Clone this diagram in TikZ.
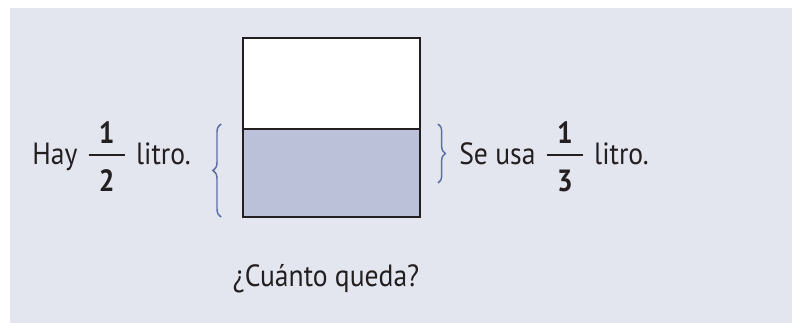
\documentclass[tikz,border=0pt]{standalone}
\usepackage{fontspec}
\setmainfont[FakeStretch=0.9]{PT Sans}
\usepackage{tikz}
\usetikzlibrary{positioning, decorations.pathreplacing}
\definecolor{panelGray}{HTML}{E3E6EF}
\definecolor{waterBlue}{HTML}{BBC1D8}
\definecolor{braceBlue}{HTML}{5B6FA3}
\definecolor{inkDark}{HTML}{231F20}
% stacked fraction with a long bar
\newcommand{\bigfrac}[2]{\hspace{3pt}$\vcenter{\offinterlineskip
  \hbox to 27pt{\hfil\bfseries #1\hfil}\vskip 7.5pt
  \hrule height 1.7pt\vskip 10.5pt
  \hbox to 27pt{\hfil\bfseries #2\hfil}}$\hspace{3pt}}

\begin{document}
\begin{tikzpicture}[
  x=0.75pt, y=-0.75pt,
  every node/.style={font=\fontsize{23}{27}\selectfont, text=inkDark, inner sep=0pt},
  glasspart/.style={draw=inkDark, line width=2pt},
  curly/.style={draw=braceBlue, line width=1.1pt,
    decorate, decoration={brace, amplitude=#1}},
]

% Panel background
\useasboundingbox (0,0) rectangle (792,323);
\fill[panelGray] (10,8) rectangle (792,323);

% Glass
\filldraw[glasspart, fill=white] (243,38) rectangle (420,129);
\filldraw[glasspart, fill=waterBlue] (243,129) rectangle (420,217);

% Braces
\draw[curly=6pt] (221,217) -- (221,124);
\draw[curly=5.5pt] (438,124) -- (438,183);

% Labels
\node[anchor=base west] (have) at (32,165) {Hay \bigfrac{1}{2} litro.};
\node[anchor=base west] (used) at (459,165) {Se usa \bigfrac{1}{3} litro.};
\node[anchor=base] (question) at (326,287) {¿Cuánto queda?};

\end{tikzpicture}
\end{document}
